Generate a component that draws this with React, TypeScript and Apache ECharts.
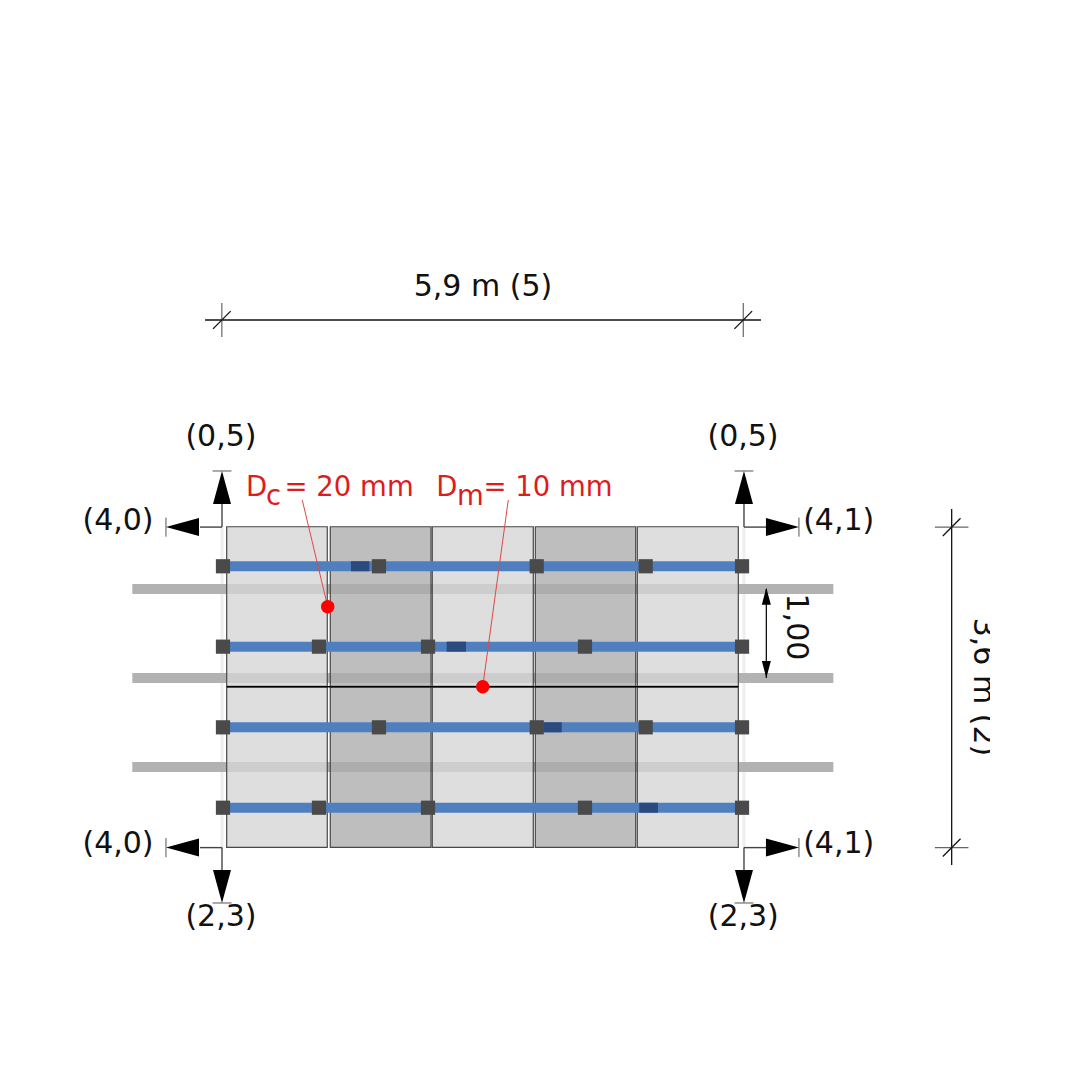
import React, { useEffect, useRef } from "react";
import * as echarts from "echarts";

// All plan values are in centimetres: x from the left support, y from the lower edge.
const axisX = [-251, 971];
const axisY = [-261, 952];

const panelLeft = [5.5, 122.7, 238.1, 354.7, 470.1];
const panelRight = [119.3, 236.7, 352.4, 468.3, 584.4];
const panelShade = [0, 1, 0, 1, 0];
const rowTop = [360.4, 180.4];
const rowBottom = [181, 0.3];
const jointY = 180.7;

const railY = [290.5, 190.5, 90.5];
const railX = [-101.3, 691.9];

const beamY = [316, 225.7, 135.1, 44.8];
const beamX = [0.2, 588.6];
const beamSplices = [
  [146.1, 166.9],
  [254.4, 276.3],
  [363.7, 384.6],
  [472.3, 493.5],
];
const anchorsOdd = [1.3, 177.8, 356.3, 479.6, 588.6];
const anchorsEven = [1.3, 109.9, 233.3, 410.9, 588.6];

const damageDots = [
  [119.8, 270.6],
  [295.2, 180.7],
];
const leaderStart = [
  [91, 390.4],
  [324.1, 390.4],
];

const sectionX = [0.2, 590.8];
const sectionY = [360, 0];
const stemEndUp = 385.9;
const stemEndDown = -25.1;
const stemEndLeft = -24.7;
const stemEndRight = 615.7;
const apexUp = 423;
const apexDown = -62.2;
const apexLeft = -63.2;
const apexRight = 653;
const tickHalf = 10.7;

const dimTopY = 592.6;
const dimTopX = [-19, 610];
const dimTopTicks = [0, 590];
const dimSideX = 825.8;
const dimSideY = [-19.5, 380.3];
const dimSideTicks = [0, 360];
const dimTickHalf = 19;
const dimSlashHalf = 10;

const spacingX = 616.1;
const spacingY = [290.5, 190.5];

const blackLabels: [string, number, number, number][] = [
  ["5,9 m (5)", 295.5, 631.9, 0],
  ["(0,5)", -1, 463.4, 0],
  ["(0,5)", 589.7, 463.4, 0],
  ["(4,0)", -117.5, 368, 0],
  ["(4,1)", 698, 368, 0],
  ["(4,0)", -117.5, 6.3, 0],
  ["(4,1)", 698, 6.3, 0],
  ["(2,3)", -1, -76.8, 0],
  ["(2,3)", 590, -76.8, 0],
  ["1,00", 650.8, 247.8, -90],
  ["3,6 m (2)", 863, 180.4, -90],
];
const redLabels: [string, number, number][] = [
  ["D", 27.3, 406],
  ["c", 50, 396],
  ["= 20 mm", 71, 406],
  ["D", 242.5, 406],
  ["m", 266, 396],
  ["= 10 mm", 296, 406],
];
const cropBox = [869.2, 891.8, 100, 270];

const FONT = '"DejaVu Sans"';
const LIGHT = "rgba(213,213,213,0.78)";
const DARK = "rgba(172,172,172,0.78)";

type Draw = (row: any, api: any) => any;
const layer = (rows: any[], z: number, draw: Draw) => ({
  type: "custom",
  coordinateSystem: "cartesian2d",
  clip: false,
  silent: true,
  z,
  encode: { x: 0, y: 1 },
  data: rows.map((_, i) => [i, i]),
  renderItem: (p: any, api: any) => draw(rows[p.dataIndex], api),
});

const seg = (api: any, x1: number, y1: number, x2: number, y2: number, stroke: string, lineWidth: number) => {
  const a = api.coord([x1, y1]);
  const b = api.coord([x2, y2]);
  return {
    type: "line",
    shape: { x1: a[0], y1: a[1], x2: b[0], y2: b[1] },
    style: { stroke, lineWidth, lineCap: "butt" },
  };
};

// [x1, y1, x2, y2] rows with a common style
const segLayer = (rows: number[][], z: number, stroke: string, width: number) =>
  layer(rows, z, (r, api) => seg(api, r[0], r[1], r[2], r[3], stroke, width));

// [apexX, apexY, dirX, dirY] rows, dir pointing toward the apex (screen directions)
const headLayer = (rows: number[][], z: number, len: number, half: number, color: string) =>
  layer(rows, z, (r, api) => {
    const c = api.coord([r[0], r[1]]);
    const dx = r[2];
    const dy = -r[3];
    const bx = c[0] - dx * len;
    const by = c[1] - dy * len;
    return {
      type: "polygon",
      shape: {
        points: [
          [c[0], c[1]],
          [bx - dy * half, by + dx * half],
          [bx + dy * half, by - dx * half],
        ],
      },
      style: { fill: color },
    };
  });

const stems: number[][] = [];
const stemTicks: number[][] = [];
const heads: number[][] = [];
sectionX.forEach((sx, i) => {
  const outer = i === 0 ? stemEndLeft : stemEndRight;
  const apexH = i === 0 ? apexLeft : apexRight;
  const dirH = i === 0 ? -1 : 1;
  sectionY.forEach((sy, j) => {
    const endV = j === 0 ? stemEndUp : stemEndDown;
    const apexV = j === 0 ? apexUp : apexDown;
    const dirV = j === 0 ? 1 : -1;
    stems.push([sx, sy, outer, sy], [sx, sy, sx, endV]);
    stemTicks.push([apexH, sy - tickHalf, apexH, sy + tickHalf], [sx - tickHalf, apexV, sx + tickHalf, apexV]);
    heads.push([apexH, sy, dirH, 0], [sx, apexV, 0, dirV]);
  });
});

const dimLines = [
  [dimTopX[0], dimTopY, dimTopX[1], dimTopY],
  [dimSideX, dimSideY[0], dimSideX, dimSideY[1]],
];
const dimTicks = [
  ...dimTopTicks.map((x) => [x, dimTopY - dimTickHalf, x, dimTopY + dimTickHalf]),
  ...dimSideTicks.map((y) => [dimSideX - dimTickHalf, y, dimSideX + dimTickHalf, y]),
];
const dimSlashes = [
  ...dimTopTicks.map((x) => [x - dimSlashHalf, dimTopY - dimSlashHalf, x + dimSlashHalf, dimTopY + dimSlashHalf]),
  ...dimSideTicks.map((y) => [dimSideX - dimSlashHalf, y - dimSlashHalf, dimSideX + dimSlashHalf, y + dimSlashHalf]),
];

const panels: number[][] = [];
rowTop.forEach((top, r) =>
  panelLeft.forEach((l, i) => panels.push([l, top, panelRight[i], rowBottom[r], panelShade[i]]))
);

const anchors: number[][] = [];
beamY.forEach((y, r) => (r % 2 === 0 ? anchorsOdd : anchorsEven).forEach((x) => anchors.push([x, y])));

const splices = beamSplices.map((s, i) => [s[0], beamY[i], s[1], beamY[i]]);
const leaders = leaderStart.map((s, i) => [s[0], s[1], damageDots[i][0], damageDots[i][1]]);

const textEl = (text: string, x: number, y: number, color: string, size: number, rot: number, align: string, api: any) => {
  const c = api.coord([x, y]);
  return {
    type: "text",
    x: c[0],
    y: c[1],
    rotation: (rot * Math.PI) / 180,
    style: {
      text,
      fill: color,
      font: `${size}px ${FONT}`,
      align,
      verticalAlign: "middle",
    },
  };
};

function buildOption() {
  return {
    animation: false,
    backgroundColor: "#ffffff",
    grid: { left: 0, right: 0, top: 0, bottom: 0 },
    xAxis: { type: "value", min: axisX[0], max: axisX[1], show: false },
    yAxis: { type: "value", min: axisY[0], max: axisY[1], show: false },
    series: [
      segLayer(sectionX.map((x) => [x, sectionY[1], x, sectionY[0]]), 1, "#eeeeee", 3),
      segLayer(railY.map((y) => [railX[0], y, railX[1], y]), 2, "#b2b2b2", 10),
      layer(panels, 3, (r, api) => {
        const a = api.coord([r[0], r[1]]);
        const b = api.coord([r[2], r[3]]);
        return {
          type: "rect",
          shape: { x: a[0], y: a[1], width: b[0] - a[0], height: b[1] - a[1] },
          style: { fill: r[4] ? DARK : LIGHT, stroke: "#484848", lineWidth: 1.2 },
        };
      }),
      segLayer([[panelLeft[0], jointY, panelRight[4], jointY]], 4, "#000000", 1.6),
      segLayer(beamY.map((y) => [beamX[0], y, beamX[1], y]), 5, "#4f7fbf", 10),
      segLayer(splices, 6, "#2a4a80", 10),
      layer(anchors, 7, (r, api) => {
        const c = api.coord([r[0], r[1]]);
        return {
          type: "rect",
          shape: { x: c[0] - 7.1, y: c[1] - 7.1, width: 14.2, height: 14.2 },
          style: { fill: "#4a4a4a" },
        };
      }),
      segLayer(leaders, 8, "#e04848", 1),
      layer(damageDots, 9, (r, api) => {
        const c = api.coord([r[0], r[1]]);
        return { type: "circle", shape: { cx: c[0], cy: c[1], r: 6.7 }, style: { fill: "#ff0000" } };
      }),
      segLayer(stems, 10, "#444444", 1.4),
      segLayer(stemTicks, 10, "#555555", 1),
      headLayer(heads, 11, 33, 9, "#000000"),
      segLayer(dimLines, 10, "#111111", 1.3),
      segLayer(dimTicks, 10, "#666666", 1.2),
      segLayer(dimSlashes, 10, "#111111", 1.3),
      segLayer([[spacingX, spacingY[0], spacingX, spacingY[1]]], 10, "#111111", 1.3),
      headLayer(
        [
          [spacingX, spacingY[0] + 1.5, 0, 1],
          [spacingX, spacingY[1], 0, -1],
        ],
        11,
        17,
        4.5,
        "#000000"
      ),
      layer(blackLabels, 12, (r, api) => textEl(r[0], r[1], r[2], "#111111", 30, r[3], "center", api)),
      layer(redLabels, 12, (r, api) => textEl(r[0], r[1], r[2], "#e01b1b", 27.5, 0, "left", api)),
      layer([cropBox], 13, (r, api) => {
        const a = api.coord([r[0], r[3]]);
        const b = api.coord([r[1], r[2]]);
        return {
          type: "rect",
          shape: { x: a[0], y: a[1], width: b[0] - a[0], height: b[1] - a[1] },
          style: { fill: "#ffffff" },
        };
      }),
    ],
  };
}

export default function App() {
  const ref = useRef<HTMLDivElement>(null);
  useEffect(() => {
    const chart = echarts.init(ref.current!, undefined, { renderer: "svg" });
    chart.setOption(buildOption() as any);
    return () => chart.dispose();
  }, []);
  return (
    <div
      ref={ref}
      style={{ position: "absolute", left: 0, top: 0, width: 1080, height: 1080, background: "#fff" }}
    />
  );
}
